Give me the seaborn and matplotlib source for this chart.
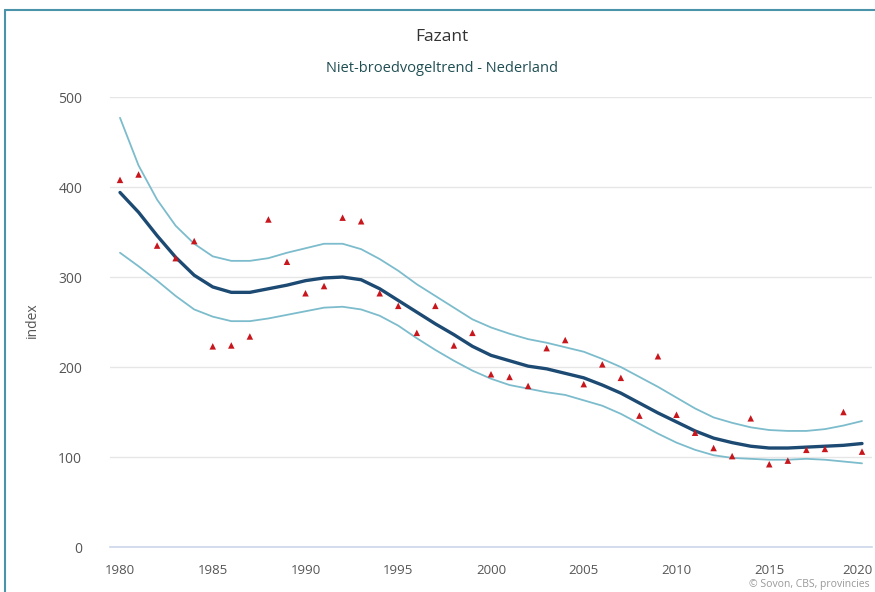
import matplotlib
matplotlib.use("Agg")
import matplotlib.pyplot as plt
import matplotlib.transforms as mtransforms
import seaborn as sns
import pandas as pd

sns.set_style("white")
plt.rcParams['font.family'] = ['Open Sans', 'DejaVu Sans']

years = list(range(1980, 2021))
counts = [408, 414, 335, 321, 340, 223, 224, 234, 364, 317,
          282, 290, 366, 362, 282, 268, 238, 268, 224, 238,
          192, 189, 179, 221, 230, 181, 203, 188, 146, 212,
          147, 127, 110, 101, 143, 92, 96, 108, 109, 150, 106]
trend = [394, 372, 346, 322, 302, 289, 283, 283, 287, 291,
         296, 299, 300, 297, 287, 274, 261, 248, 236, 223,
         213, 207, 201, 198, 193, 188, 180, 171, 160, 149,
         139, 129, 121, 116, 112, 110, 110, 111, 112, 113, 115]
upper = [477, 424, 386, 357, 337, 323, 318, 318, 321, 327,
         332, 337, 337, 331, 320, 307, 292, 279, 266, 253,
         244, 237, 231, 227, 222, 217, 209, 200, 189, 178,
         166, 154, 144, 138, 133, 130, 129, 129, 131, 135, 140]
lower = [327, 312, 296, 279, 264, 256, 251, 251, 254, 258,
         262, 266, 267, 264, 257, 246, 232, 219, 207, 196,
         187, 180, 176, 172, 169, 163, 157, 148, 137, 126,
         116, 108, 102, 99, 98, 97, 97, 98, 97, 95, 93]
xticks = [1980, 1985, 1990, 1995, 2000, 2005, 2010, 2015, 2020]
yticks = [0, 100, 200, 300, 400, 500]

df = pd.DataFrame({"jaar": years, "index": counts, "trend": trend,
                   "upper": upper, "lower": lower})

fig = plt.figure(figsize=(8.75, 5.92), dpi=100)
ax = fig.add_axes([0.1257, 0.076, 0.8709, 0.76])

sns.lineplot(data=df, x="jaar", y="upper", ax=ax, color="#7cbccc", linewidth=1.3)
sns.lineplot(data=df, x="jaar", y="lower", ax=ax, color="#7cbccc", linewidth=1.3)
sns.lineplot(data=df, x="jaar", y="trend", ax=ax, color="#1c4a72", linewidth=2.4)
sns.scatterplot(data=df, x="jaar", y="index", ax=ax, marker="^", s=22,
                color="#c8161d", edgecolor="none", zorder=5)

ax.set_xlim(1979.46, 2020.54)
ax.set_ylim(0, 500)
ax.set_xticks(xticks, [str(t) for t in xticks])
ax.set_yticks(yticks, [str(t) for t in yticks])
ax.yaxis.grid(True, color="#e6e6e6", linewidth=1)
ax.set_axisbelow(True)
for s in ["top", "right", "left"]:
    ax.spines[s].set_visible(False)
ax.spines["bottom"].set_color("#ccd6eb")
ax.spines["bottom"].set_linewidth(1.2)
ax.tick_params(axis="x", direction="out", length=10, width=1, color="#ccd6eb",
               labelcolor="#555555", labelsize=9.5, pad=2)
ax.tick_params(axis="y", length=0, labelcolor="#555555", labelsize=10, pad=20)
# the last year label sits against the right edge, as in the original
last = ax.get_xticklabels()[-1]
last.set_transform(last.get_transform() +
                   mtransforms.ScaledTranslation(-5 / 100, 0, fig.dpi_scale_trans))
ax.set_xlabel("")
ax.set_ylabel("index", color="#555555", fontsize=10)
ax.yaxis.set_label_coords(-0.092, 0.504)
for line in ax.lines:
    line.set_clip_on(False)

fig.text(0.505, 0.938, "Fazant", ha="center", va="center", fontsize=12.5, color="#333333")
fig.text(0.505, 0.885, "Niet-broedvogeltrend - Nederland", ha="center", va="center",
         fontsize=10.5, color="#1f4f53")
fig.text(0.994, 0.004, "© Sovon, CBS, provincies", ha="right", va="bottom",
         fontsize=7.5, color="#999999")

# frame of the surrounding box
fig.add_artist(plt.Line2D([5 / 875, 5 / 875], [0, 1 - 10 / 592], color="#4a93a8",
                          linewidth=1.5, transform=fig.transFigure))
fig.add_artist(plt.Line2D([5 / 875, 1], [1 - 10 / 592, 1 - 10 / 592], color="#4a93a8",
                          linewidth=1.5, transform=fig.transFigure))

fig.savefig("out.png", dpi=100)
